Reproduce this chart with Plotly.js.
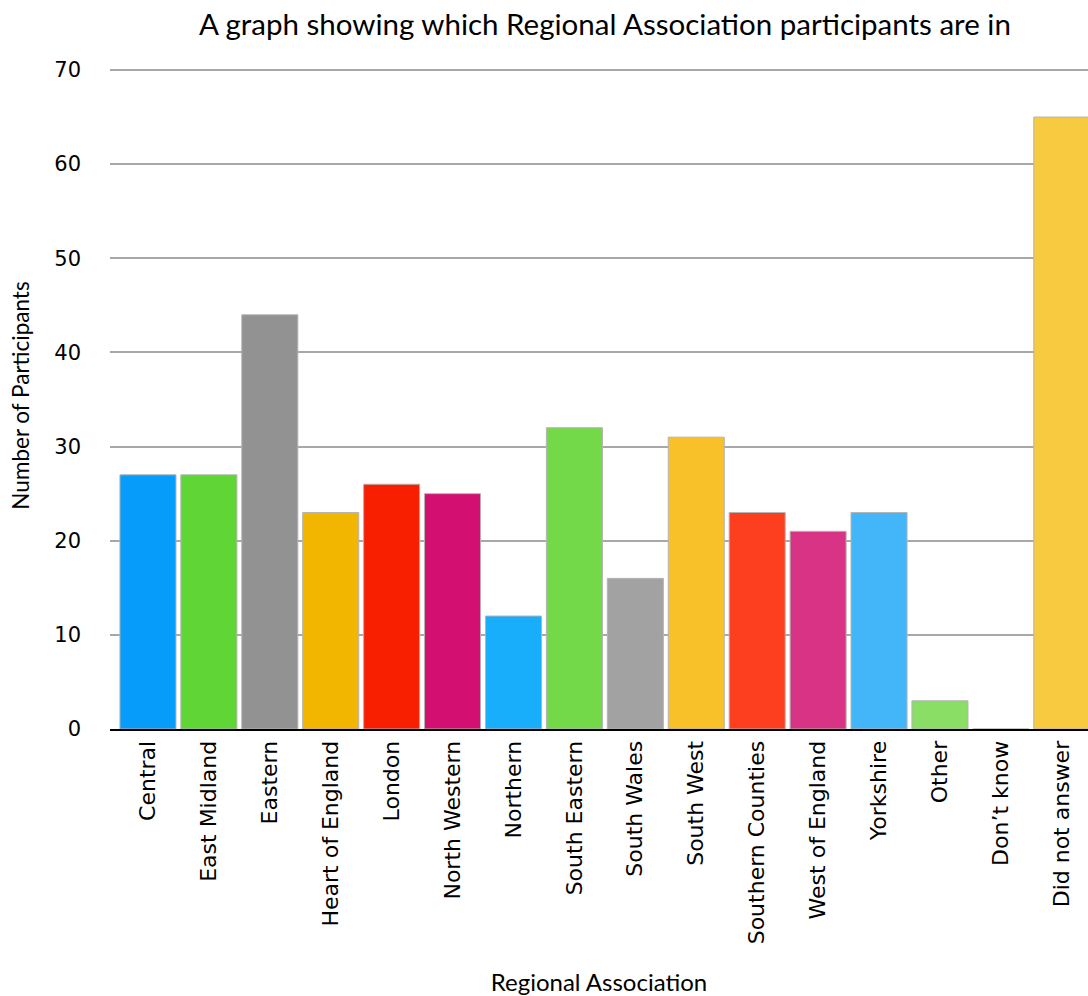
<!DOCTYPE html>
<html>
<head>
<meta charset="utf-8">
<script src="https://cdn.plot.ly/plotly-3.0.1.min.js"></script>
<style>html,body{margin:0;padding:0;background:#fff;}#chart{width:1088px;height:996px;}</style>
</head>
<body>
<div id="chart"></div>
<script>
const categories = ["Central","East Midland","Eastern","Heart of England","London","North Western","Northern","South Eastern","South Wales","South West","Southern Counties","West of England","Yorkshire","Other","Don\u2019t know","Did not answer"];
const participants = [27,27,44,23,26,25,12,32,16,31,23,21,23,3,0,65];
const barColors = ["#069cfa","#5fd635","#929292","#f3b600","#f81f00","#d40f72","#18aefb","#73d949","#a2a2a2","#f8c12a","#fd3f1f","#d93385","#43b6fa","#8ade66","#f8c12a","#f7ca40"];
const yTicks = [0,10,20,30,40,50,60,70];

const trace = {
  type: 'bar',
  x: categories,
  y: participants,
  marker: {color: barColors, line: {color: '#b4b4b4', width: 1}},
  hoverinfo: 'x+y'
};

const layout = {
  width: 1088, height: 996,
  margin: {l: 110, r: 0, t: 62, b: 267},
  paper_bgcolor: '#fff', plot_bgcolor: '#fff',
  showlegend: false,
  bargap: 0.08,
  title: {text: 'A graph showing which Regional Association participants are in',
          font: {family: 'Lato, sans-serif', size: 29.5, color: '#000'},
          x: 0.556, xref: 'container', xanchor: 'center', y: 0.975, yref: 'container', yanchor: 'middle'},
  xaxis: {
    type: 'category',
    range: [-0.623, 15.43],
    tickangle: -90,
    tickfont: {family: 'DejaVu Sans, Verdana, sans-serif', size: 22, color: '#000'},
    showgrid: false,
    showline: true, linecolor: '#000', linewidth: 2,
    ticks: '', ticklabelstandoff: 1,
    title: {text: 'Regional Association', font: {family: 'Lato, sans-serif', size: 24, color: '#000'}, standoff: 62}
  },
  yaxis: {
    range: [0, 70.85],
    tickvals: yTicks,
    ticktext: yTicks.map(String),
    tickfont: {family: 'DejaVu Sans, Verdana, sans-serif', size: 21, color: '#000'},
    showgrid: true, gridcolor: '#a8a8a8', gridwidth: 2,
    zeroline: false, showline: false, ticks: '',
    ticklabelstandoff: 28,
    title: {text: 'Number of Participants', font: {family: 'Lato, sans-serif', size: 22.5, color: '#000'}, standoff: 18}
  }
};

Plotly.newPlot('chart', [trace], layout, {displayModeBar: false, staticPlot: true});
</script>
</body>
</html>
